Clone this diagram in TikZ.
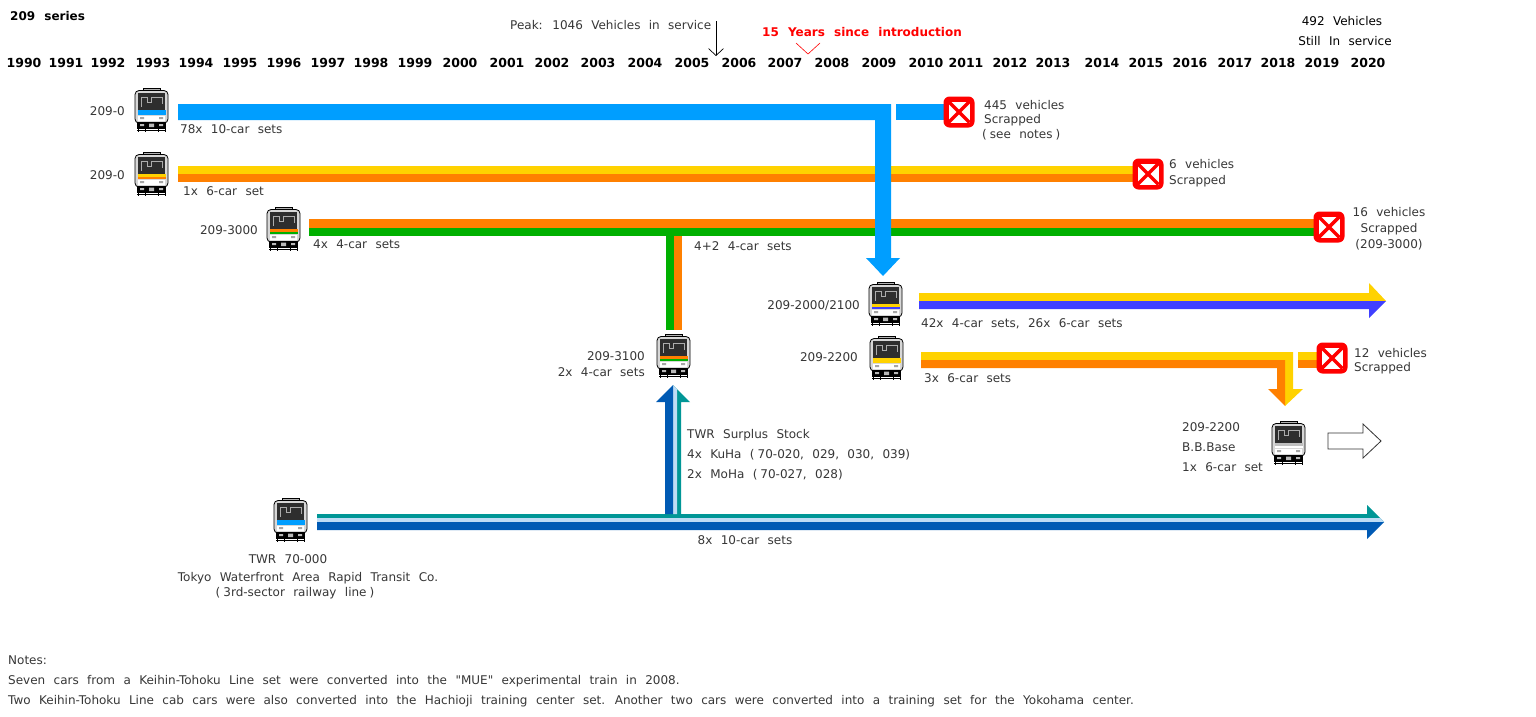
\documentclass[tikz,border=0pt]{standalone}
\usepackage{fontspec}
\setmainfont{DejaVu Sans}[WordSpace=2.2]
\usetikzlibrary{arrows.meta}
\definecolor{skyb}{RGB}{0,158,255}
\definecolor{yel}{RGB}{255,210,0}
\definecolor{ora}{RGB}{255,128,0}
\definecolor{grn}{RGB}{0,176,0}
\definecolor{vio}{RGB}{64,64,255}
\definecolor{tealc}{RGB}{0,150,150}
\definecolor{dblue}{RGB}{0,90,180}
\definecolor{lblue}{RGB}{190,220,245}
\definecolor{txt}{RGB}{55,55,55}
\definecolor{xred}{RGB}{255,0,0}
\definecolor{bodyg}{RGB}{215,215,215}
\newcommand{\po}{(\hspace{3pt}}
\newcommand{\pc}{\hspace{3pt})}
\tikzset{
  lbl/.style={inner sep=0pt, text height=8.75pt, text depth=0pt, text=txt, font=\fontsize{12}{14}\selectfont},
  yr/.style={inner sep=0pt, text height=9pt, text depth=0pt, text=black, font=\fontsize{12.5}{14}\selectfont\bfseries},
  pics/train/.style 2 args={code={
    \fill[gray!60] (9,0) rectangle (26,3);
    \draw[black, line width=0.6pt] (9,3) -- (9,0.5) -- (26,0.5) -- (26,3);
    \filldraw[fill=bodyg, draw=black, line width=0.8pt, rounded corners=4pt] (1,2.5) rectangle (34,35);
    \fill[black!82] (4,5) rectangle (31,21.5);
    \draw[gray!65, line width=0.7pt] (7,9) -- (7,19) (7,9) -- (13,9) -- (13,14) -- (17,14) -- (17,9) -- (28,9) -- (28,16);
    \fill[#1] (3.5,22) rectangle (31.5,24.5);
    \fill[#2] (3.5,24.5) rectangle (31.5,27);
    \fill[white] (4,27.5) rectangle (31,32.5);
    \fill[gray!70] (6,29) rectangle (10,31) (25,29) rectangle (29,31);
    \fill[black] (3,34) rectangle (32,41);
    \fill[gray!55] (6,36) rectangle (10,38) (25,36) rectangle (29,38) (15,35.5) rectangle (20,39);
    \draw[black, line width=0.8pt] (4,41) -- (4,44) (11,41) -- (11,44) (24,41) -- (24,44) (31,41) -- (31,44) (3,42.5) -- (32,42.5);
  }},
  pics/scrap/.style={code={
    \fill[xred, rounded corners=6pt] (-15.5,-15.5) rectangle (15.5,15.5);
    \fill[white] (-10.5,-10.5) rectangle (10.5,10.5);
    \draw[xred, line width=3.5pt] (-10.5,-10.5) -- (10.5,10.5) (-10.5,10.5) -- (10.5,-10.5);
  }}
}
\begin{document}
\begin{tikzpicture}[x=1pt,y=-1pt]
\useasboundingbox (0,0) rectangle (1536,716);
\fill[white] (0,0) rectangle (1536,716);

% title and years
\node[yr, anchor=west, font=\fontsize{12}{14}\selectfont\bfseries] (title) at (10,16) {209 series};
\foreach \yy/\xx in {1990/24,1991/66,1992/108,1993/153,1994/196,1995/240,1996/284,1997/328,1998/371,1999/415,2000/460,2001/507,2002/552,2003/598,2004/645,2005/692,2006/739,2007/785,2008/832,2009/879,2010/926,2011/966,2012/1010,2013/1053,2014/1102,2015/1146,2016/1190,2017/1235,2018/1278,2019/1322,2020/1368}
  \node[yr] (y\yy) at (\xx,63) {\yy};

% peak annotation
\node[lbl, anchor=west] (peak) at (510,25) {Peak: 1046 Vehicles in service};
\coordinate (pkA) at (716,21);
\coordinate (pkB) at (716,56);
\draw[black, line width=0.7pt, -{Straight Barb[length=7pt,width=15pt]}] (pkA) -- (pkB);
\node[lbl, anchor=west, text=xred, font=\fontsize{12}{14}\selectfont\bfseries] (fifteen) at (762,32) {15 Years since introduction};
\coordinate (vA) at (796,43); \coordinate (vB) at (808,54); \coordinate (vC) at (820,43);
\draw[xred, line width=0.6pt] (vA) -- (vB) -- (vC);
\node[lbl, text=black] (still1) at (1342,21) {492 Vehicles};
\node[lbl, text=black] (still2) at (1345,41) {Still In service};

% ---- row 2 (yellow/orange) ----
\fill[yel] (178,166) rectangle (1135,174);
\fill[ora] (178,174) rectangle (1135,182);
% ---- row 3 (orange/green) ----
\fill[ora] (309,219) rectangle (1316,228);
\fill[grn] (309,228) rectangle (1316,236);
\fill[grn] (666,236) rectangle (674,330);
\fill[ora] (674,236) rectangle (682,330);
% ---- row 1 (blue) with down arrow ----
\fill[skyb] (178,104) -- (891,104) -- (891,258) -- (900,258) -- (883,276) -- (866,258) -- (875,258) -- (875,120) -- (178,120) -- cycle;
\fill[skyb] (896,104) rectangle (946,120);
% ---- row 4 (yellow/blue) ----
\fill[yel] (919,293) -- (1369,293) -- (1369,283) -- (1386,301) -- (919,301) -- cycle;
\fill[vio] (919,301) -- (1386,301) -- (1369,318) -- (1369,309) -- (919,309) -- cycle;
% ---- row 5 (yellow/orange) bending down ----
\fill[yel] (921,352) -- (1293,352) -- (1293,389) -- (1303,389) -- (1285,406) -- (1285,360) -- (921,360) -- cycle;
\fill[ora] (921,360) -- (1285,360) -- (1285,406) -- (1268,389) -- (1277,389) -- (1277,368) -- (921,368) -- cycle;
\fill[yel] (1298,352) rectangle (1319,360);
\fill[ora] (1298,360) rectangle (1319,368);
% ---- TWR row ----
\fill[tealc] (317,514) -- (1367,514) -- (1367,505) -- (1384,522) -- (317,522) -- cycle;
\fill[lblue] (317,518) -- (1380,518) -- (1384,522) -- (317,522) -- cycle;
\fill[dblue] (317,522) -- (1384,522) -- (1367,539) -- (1367,530) -- (317,530) -- cycle;
% up arrow (surplus stock)
\fill[tealc] (673,385) -- (690,402) -- (681,402) -- (681,514) -- (673,514) -- cycle;
\fill[lblue] (673,385) -- (677,389) -- (677,514) -- (673,514) -- cycle;
\fill[dblue] (665,514) -- (665,402) -- (656,402) -- (673,385) -- (673,514) -- cycle;
% white outline arrow
\draw[black!80, fill=white, line width=0.8pt] (1328,433) -- (1363,433) -- (1363,424) -- (1381,441) -- (1363,458) -- (1363,449) -- (1328,449) -- cycle;

% scrapped marks
\pic (s1) at (959,112) {scrap};
\pic (s2) at (1148,174) {scrap};
\pic (s3) at (1329,227) {scrap};
\pic (s4) at (1332,358) {scrap};

% trains
\pic (t1) at (134,88) {train={skyb}{skyb}};
\pic (t2) at (134,152) {train={yel}{ora}};
\pic (t3) at (266,207) {train={ora}{grn}};
\pic (t4) at (656,334) {train={ora}{grn}};
\pic (t5) at (868,282) {train={yel}{vio}};
\pic (t6) at (869,336) {train={yel}{yel}};
\pic (t7) at (1271,421) {train={gray!50}{white}};
\pic (t8) at (273,498) {train={skyb}{skyb}};

% labels
\node[lbl, anchor=east] (l1) at (125,111) {209-0};
\node[lbl, anchor=west] (c1) at (180,129) {78x 10-car sets};
\node[lbl, anchor=west] (r1a) at (984,105) {445 vehicles};
\node[lbl, anchor=west] (r1b) at (984,119) {Scrapped};
\node[lbl, anchor=west] (r1c) at (982,134) {\po see notes\pc};

\node[lbl, anchor=east] (l2) at (125,175) {209-0};
\node[lbl, anchor=west] (c2) at (183,191) {1x 6-car set};
\node[lbl, anchor=west] (r2a) at (1169,164) {6 vehicles};
\node[lbl, anchor=west] (r2b) at (1169,180) {Scrapped};

\node[lbl, anchor=east] (l3) at (258,230) {209-3000};
\node[lbl, anchor=west] (c3) at (313,244) {4x 4-car sets};
\node[lbl, anchor=west] (c3b) at (694,246) {4+2 4-car sets};
\node[lbl] (r3a) at (1389,212) {16 vehicles};
\node[lbl] (r3b) at (1389,228) {Scrapped};
\node[lbl] (r3c) at (1389,244) {(209-3000)};

\node[lbl, anchor=east] (l31) at (645,356) {209-3100};
\node[lbl, anchor=east] (l31b) at (645,372) {2x 4-car sets};

\node[lbl, anchor=east] (l4) at (860,305) {209-2000/2100};
\node[lbl, anchor=west] (c4) at (921,323) {42x 4-car sets, 26x 6-car sets};

\node[lbl, anchor=east] (l5) at (858,357) {209-2200};
\node[lbl, anchor=west] (c5) at (924,378) {3x 6-car sets};
\node[lbl, anchor=west] (r5a) at (1354,353) {12 vehicles};
\node[lbl, anchor=west] (r5b) at (1354,367) {Scrapped};

\node[lbl, anchor=west] (bb1) at (1182,427) {209-2200};
\node[lbl, anchor=west] (bb2) at (1182,447) {B.B.Base};
\node[lbl, anchor=west] (bb3) at (1182,467) {1x 6-car set};

\node[lbl, anchor=west] (sp1) at (687,434) {TWR Surplus Stock};
\node[lbl, anchor=west] (sp2) at (687,454) {4x KuHa \po 70-020, 029, 030, 039)};
\node[lbl, anchor=west] (sp3) at (687,474) {2x MoHa \po 70-027, 028)};

\node[lbl] (tw1) at (288,559) {TWR 70-000};
\node[lbl] (tw2) at (308,577) {Tokyo Waterfront Area Rapid Transit Co.};
\node[lbl] (tw3) at (295,592) {\po 3rd-sector railway line\pc};
\node[lbl] (c8) at (745,540) {8x 10-car sets};

% notes
\node[lbl, anchor=west] (n0) at (8,660) {Notes:};
\node[lbl, anchor=west] (n1) at (8,680) {Seven cars from a Keihin-Tohoku Line set were converted into the {\addfontfeatures{Ligatures=TeXOff}"MUE"} experimental train in 2008.};
\node[lbl, anchor=west] (n2) at (8,700) {Two Keihin-Tohoku Line cab cars were also converted into the Hachioji training center set. Another two cars were converted into a training set for the Yokohama center.};
\end{tikzpicture}
\end{document}
